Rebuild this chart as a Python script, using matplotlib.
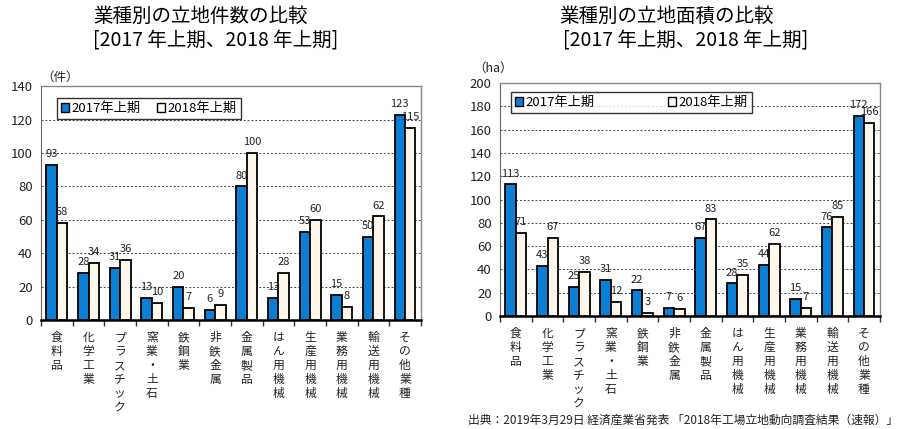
import numpy as np
import matplotlib
matplotlib.use('Agg')
import matplotlib.pyplot as plt
from matplotlib.patches import Patch

plt.rcParams['font.family'] = ['Noto Sans CJK JP', 'DejaVu Sans']

categories = ['食料品', '化学工業', 'プラスチック', '窯業・土石', '鉄鋼業', '非鉄金属',
              '金属製品', 'はん用機械', '生産用機械', '業務用機械', '輸送用機械', 'その他業種']
series_names = ['2017年上期', '2018年上期']

count_2017 = [93, 28, 31, 13, 20, 6, 80, 13, 53, 15, 50, 123]
count_2018 = [58, 34, 36, 10, 7, 9, 100, 28, 60, 8, 62, 115]

area_2017 = [113, 43, 25, 31, 22, 7, 67, 28, 44, 15, 76, 172]
area_2018 = [71, 67, 38, 12, 3, 6, 83, 35, 62, 7, 85, 166]

BLUE = '#0A7FD4'
CREAM = '#FFF7EC'

fig = plt.figure(figsize=(9, 4.29), dpi=100)
fig.patch.set_facecolor('white')


def draw_panel(ax, v17, v18, ymax, unit, unit_pos, leg_box):
    x = np.arange(len(categories))
    w = 0.33
    b1 = ax.bar(x - w / 2, v17, w, color=BLUE, edgecolor='black', linewidth=1.3, zorder=3)
    b2 = ax.bar(x + w / 2, v18, w, color=CREAM, edgecolor='black', linewidth=1.3, zorder=3)
    for bars in (b1, b2):
        for bar in bars:
            h = bar.get_height()
            ax.text(bar.get_x() + bar.get_width() / 2, h + ymax * 0.025, f'{h:.0f}',
                    ha='center', va='bottom', fontsize=8, color='#222')
    ax.set_xlim(-0.5, len(categories) - 0.5)
    ax.set_ylim(0, ymax)
    ax.set_yticks(np.arange(0, ymax + 1, 20))
    ax.tick_params(axis='y', labelsize=9.5, length=0, pad=6, colors='#222')
    ax.grid(axis='y', linestyle=(0, (2, 2)), color='#444', linewidth=0.7, zorder=0)
    ax.set_xticks(x)
    ax.set_xticklabels(['\n'.join(c) for c in categories], fontsize=8.5,
                       linespacing=1.1, color='#222')
    ax.tick_params(axis='x', length=0, pad=8)
    ax.set_xticks(np.arange(-0.5, len(categories)), minor=True)
    ax.tick_params(axis='x', which='minor', length=4, width=1, color='#333')
    for s in ['top', 'right']:
        ax.spines[s].set_color('#888')
        ax.spines[s].set_linewidth(1)
    ax.spines['left'].set_color('#666')
    ax.spines['bottom'].set_color('black')
    ax.spines['bottom'].set_linewidth(1.8)
    ax.text(unit_pos[0], unit_pos[1], unit, transform=ax.transAxes,
            ha='left', va='center', fontsize=9, color='#222')
    handles = [Patch(facecolor=BLUE, edgecolor='black', linewidth=1),
               Patch(facecolor=CREAM, edgecolor='black', linewidth=1)]
    leg = ax.legend(handles, series_names, loc='lower left', bbox_to_anchor=leg_box,
                    mode='expand', ncol=2, fontsize=9.5, frameon=True, fancybox=False,
                    handlelength=0.6, handleheight=0.6, handletextpad=0.2,
                    borderpad=0.3, columnspacing=0.8, borderaxespad=0)
    leg.get_frame().set_edgecolor('black')
    leg.get_frame().set_linewidth(1)
    leg.set_zorder(5)


ax1 = fig.add_axes([0.0456, 0.254, 0.422, 0.545])
draw_panel(ax1, count_2017, count_2018, 140, '（件）', (0.0, 1.04),
           (0.042, 0.859, 0.484, 0.115))

ax2 = fig.add_axes([0.5556, 0.2634, 0.422, 0.543])
draw_panel(ax2, area_2017, area_2018, 200, '（ha）', (-0.07, 1.064),
           (0.029, 0.871, 0.634, 0.108))

fig.text(93 / 900, 1 - 16 / 429, '業種別の立地件数の比較', fontsize=14, ha='left', va='center')
fig.text(93 / 900, 1 - 40 / 429, '[2017 年上期、2018 年上期]', fontsize=14, ha='left', va='center')
fig.text(559 / 900, 1 - 16 / 429, '業種別の立地面積の比較', fontsize=14, ha='left', va='center')
fig.text(563 / 900, 1 - 40 / 429, '[2017 年上期、2018 年上期]', fontsize=14, ha='left', va='center')

fig.text(898 / 900, 1 - 420 / 429, '出典：2019年3月29日 経済産業省発表 「2018年工場立地動向調査結果（速報）」',
         fontsize=8.5, ha='right', va='center', color='#222')

plt.savefig('out.png', dpi=100, facecolor='white')
plt.close()
